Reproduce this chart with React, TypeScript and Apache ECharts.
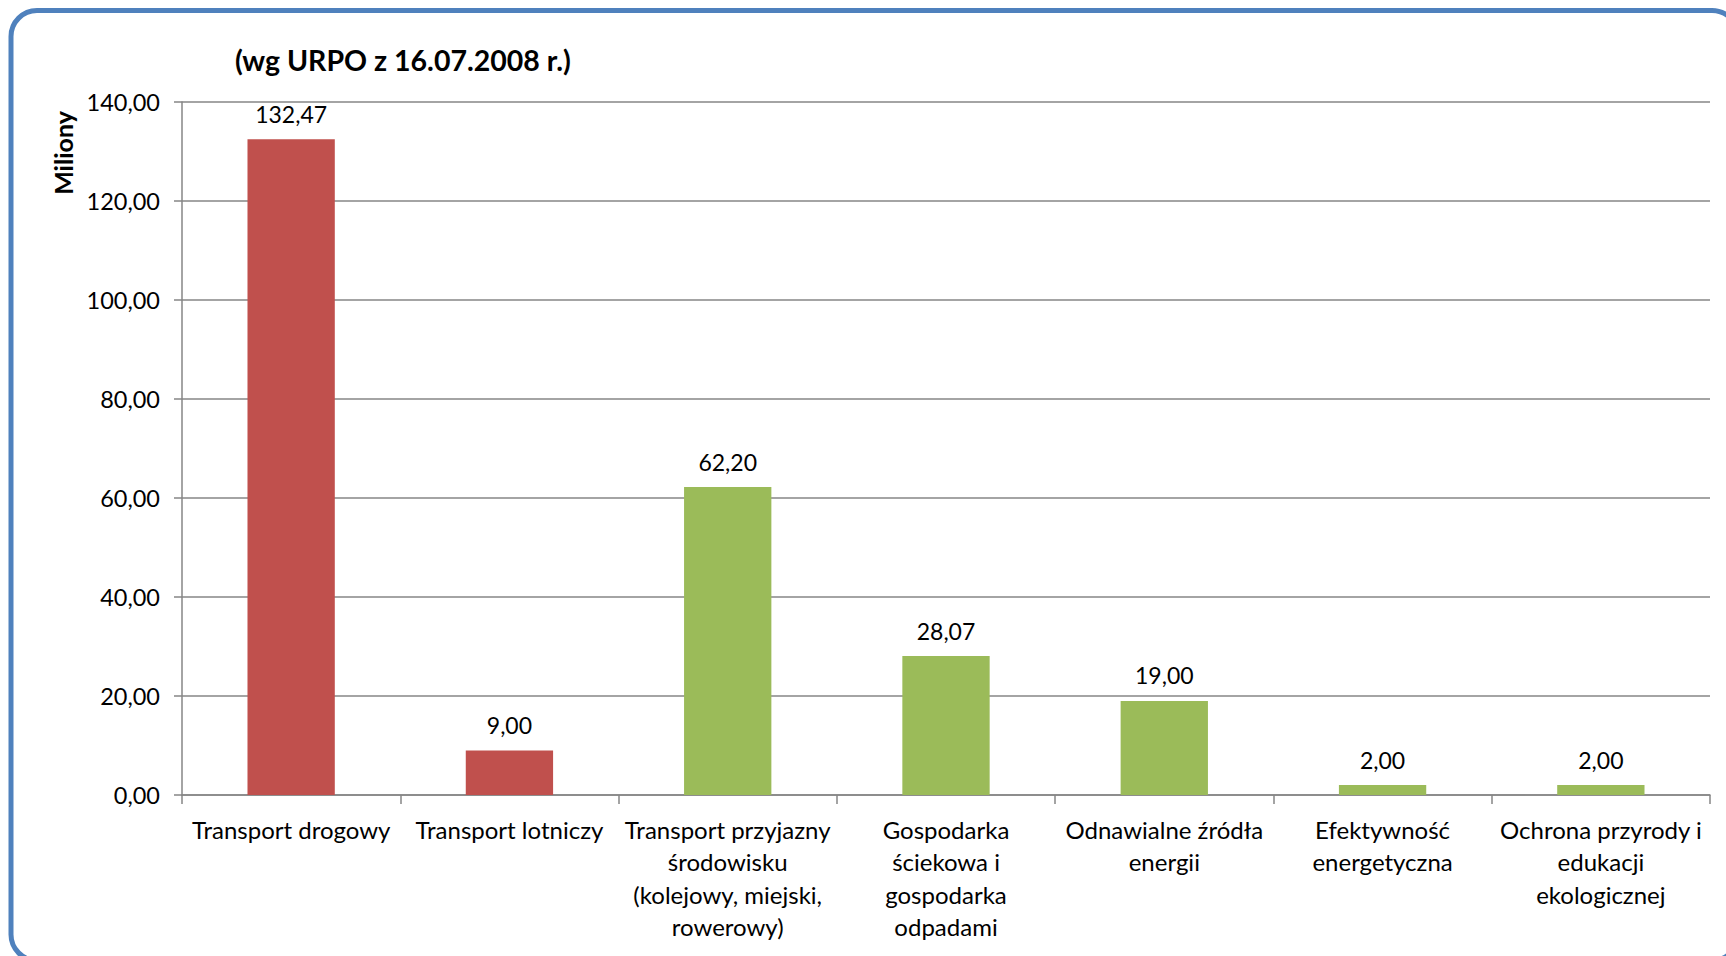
import React, { useEffect, useRef } from "react";
import * as echarts from "echarts";

const categories = [
  "Transport drogowy",
  "Transport lotniczy",
  "Transport przyjazny\nśrodowisku\n(kolejowy, miejski,\nrowerowy)",
  "Gospodarka\nściekowa i\ngospodarka\nodpadami",
  "Odnawialne źródła\nenergii",
  "Efektywność\nenergetyczna",
  "Ochrona przyrody i\nedukacji\nekologicznej",
];
const values = [132.47, 9.0, 62.2, 28.07, 19.0, 2.0, 2.0];
const barColors = ["#C0504D", "#C0504D", "#9BBB59", "#9BBB59", "#9BBB59", "#9BBB59", "#9BBB59"];
const titleText = "(wg URPO z 16.07.2008 r.)";
const yAxisName = "Miliony";

const FONT = "Lato, 'Open Sans', sans-serif";
const fmt = (v: number) => v.toFixed(2).replace(".", ",");

export default function App() {
  const ref = useRef<HTMLDivElement>(null);
  useEffect(() => {
    document.body.style.margin = "0";
    const chart = echarts.init(ref.current!, null, { renderer: "svg" });
    chart.setOption({
      animation: false,
      backgroundColor: "#ffffff",
      textStyle: { fontFamily: FONT },
      title: {
        text: titleText,
        left: 230,
        top: 40,
        textStyle: { fontFamily: FONT, fontWeight: "bold", fontSize: 28.5, color: "#000" },
      },
      graphic: [
        {
          type: "rect",
          shape: { x: 11, y: 10.5, width: 1727, height: 950, r: 26 },
          style: { fill: "none", stroke: "#4F81BD", lineWidth: 5 },
          silent: true,
        },
        {
          type: "text",
          x: 63,
          y: 153,
          rotation: Math.PI / 2,
          style: {
            text: yAxisName,
            fontFamily: FONT,
            fontWeight: "bold",
            fontSize: 25,
            fill: "#000",
            align: "center",
            verticalAlign: "middle",
          },
          silent: true,
        },
      ],
      grid: {
        left: 182,
        right: 16,
        top: 102,
        bottom: 161,
        containLabel: false,
        outerBoundsMode: "none",
      },
      xAxis: {
        type: "category",
        data: categories,
        axisLine: { show: true, lineStyle: { color: "#868686", width: 1.5 } },
        axisTick: { show: true, alignWithLabel: false, length: 9, lineStyle: { color: "#868686", width: 1.5 } },
        axisLabel: {
          interval: 0,
          margin: 18,
          fontSize: 24,
          lineHeight: 32.5,
          color: "#000",
          fontFamily: FONT,
          align: "center",
        },
        splitLine: { show: false },
      },
      yAxis: {
        type: "value",
        min: 0,
        max: 140,
        interval: 20,
        axisLine: { show: true, lineStyle: { color: "#868686", width: 1.5 } },
        axisTick: { show: true, length: 8, lineStyle: { color: "#868686", width: 1.5 } },
        axisLabel: {
          formatter: (v: number) => fmt(v),
          fontSize: 23.5,
          color: "#000",
          margin: 22,
          fontFamily: FONT,
        },
        splitLine: { show: true, lineStyle: { color: "#868686", width: 1.5 } },
      },
      series: [
        {
          type: "bar",
          data: values.map((v, i) => ({ value: v, itemStyle: { color: barColors[i] } })),
          barWidth: "40%",
          label: {
            show: true,
            position: "top",
            distance: 14,
            fontSize: 23,
            color: "#000",
            fontFamily: FONT,
            formatter: (p: any) => fmt(p.value),
          },
        },
      ],
    });
    return () => chart.dispose();
  }, []);
  return <div ref={ref} style={{ width: 1726, height: 956 }} />;
}
